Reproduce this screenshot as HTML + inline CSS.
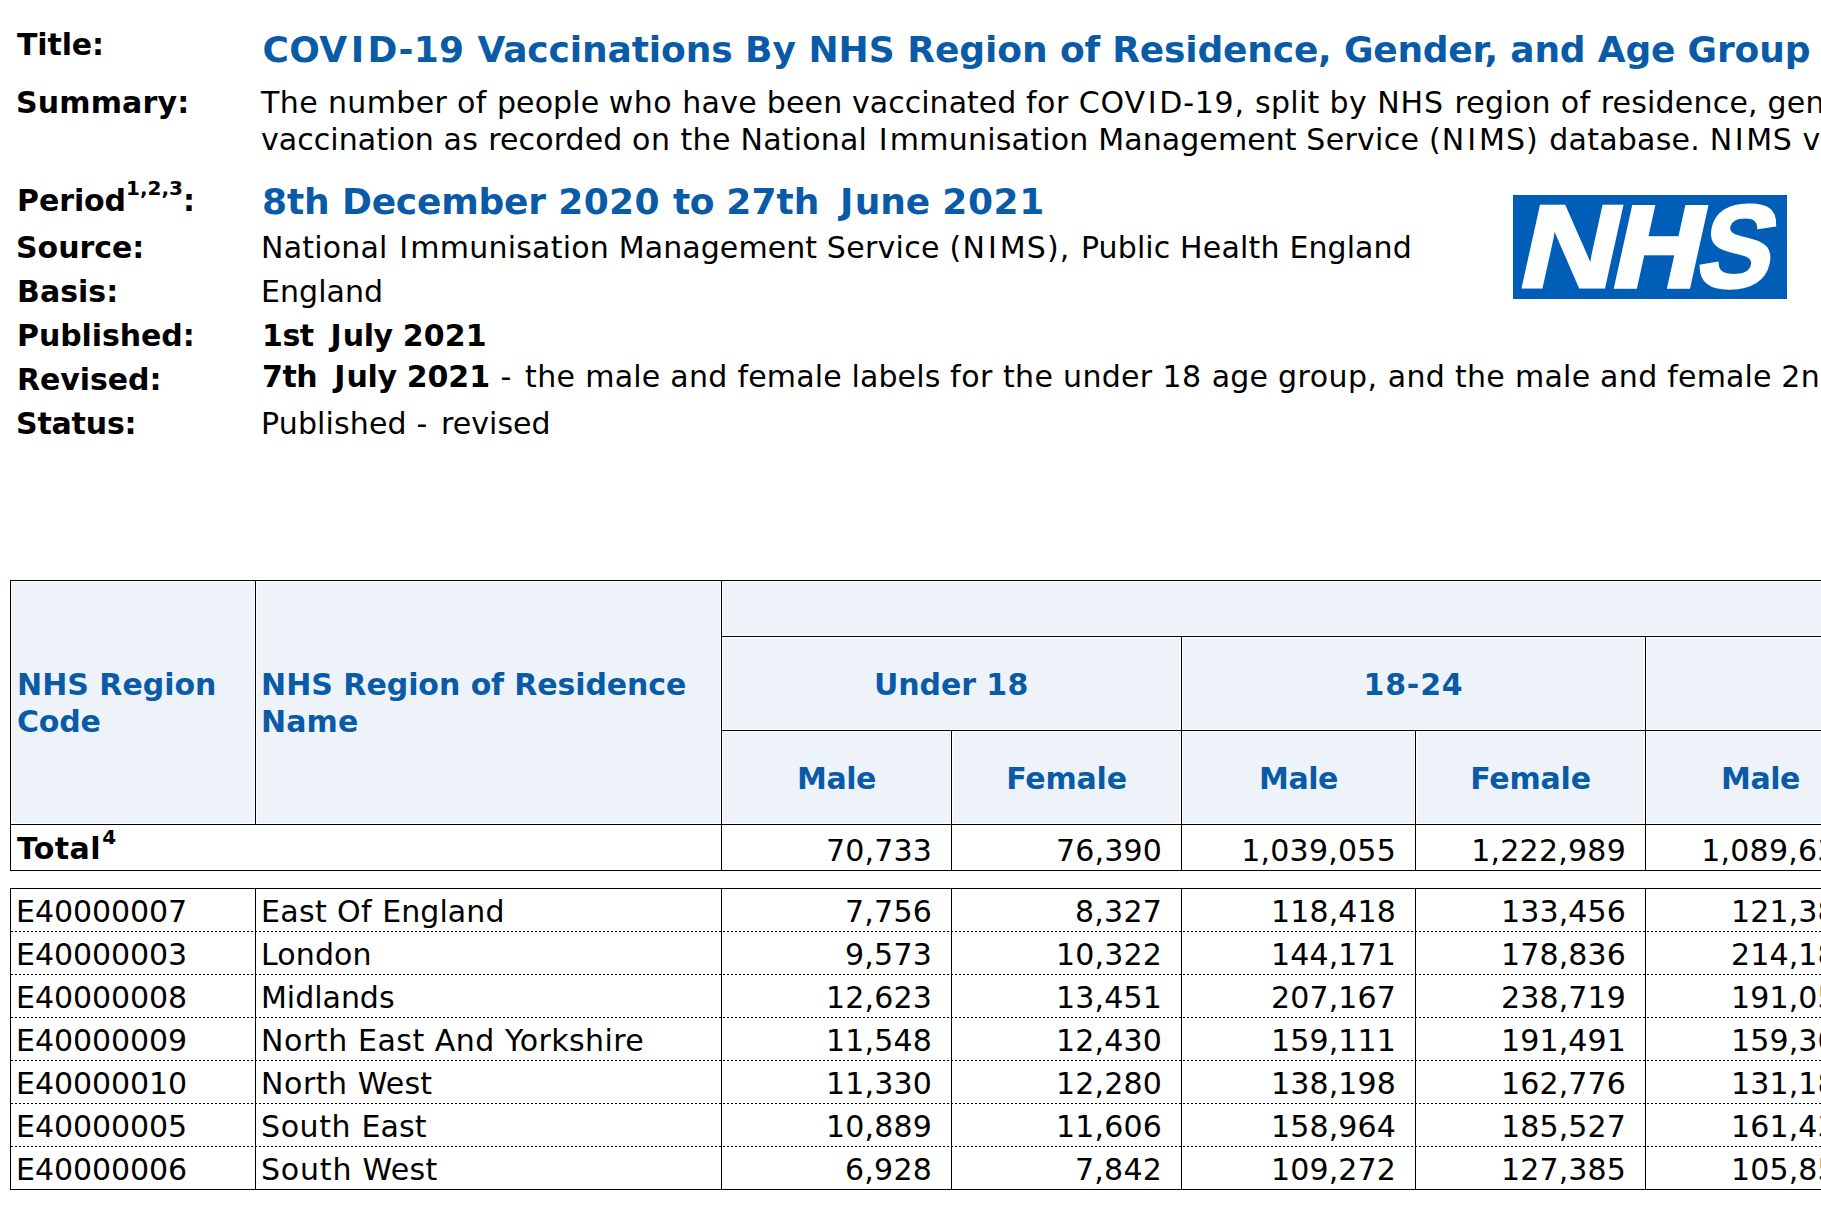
<!DOCTYPE html>
<html lang="en"><head><meta charset="utf-8"><title>COVID-19 Vaccinations By NHS Region of Residence, Gender, and Age Group</title>
<style>
html,body{margin:0;padding:0;background:#fff;}
body{width:1821px;height:1217px;overflow:hidden;position:relative;font-family:"DejaVu Sans","Liberation Sans",sans-serif;}
.t{position:absolute;white-space:nowrap;line-height:40px;height:40px;}
.t i{font-style:normal}
.t sup{font-size:20px;vertical-align:baseline;position:relative;top:-16px;line-height:0;letter-spacing:0}
.t sup.s4{top:-15.5px;margin-left:1.5px}
.l{position:absolute;background:#000;}
.hd{position:absolute;height:1px;background:repeating-linear-gradient(90deg,#000 0,#000 2px,transparent 2px,transparent 4px);background-position:1px 0;}
.fill{position:absolute;background:#EEF3FA;overflow:hidden}
.w{position:absolute;background:#fff}
.logo{position:absolute;}
</style></head>
<body>
<div class="t" style="top:25.00px;font-size:30px;font-weight:bold;left:17px;"><span style="letter-spacing:-0.13px">Title:</span></div>
<div class="t" style="top:30.00px;font-size:36px;font-weight:bold;color:#095BA7;left:262.5px;"><span style="letter-spacing:0.35px">COV<i style="padding:0 3.16px 0 3.16px">I</i>D-19 </span><span style="letter-spacing:-0.11px">Vaccinations </span><span style="letter-spacing:-0.02px">By </span><span style="letter-spacing:0.03px">NHS </span><span style="letter-spacing:-0.06px">Region </span><span style="letter-spacing:-0.18px">of </span><span style="letter-spacing:-0.19px">Residence, </span><span style="letter-spacing:-0.26px">Gender, </span><span style="letter-spacing:-0.19px">and </span><span style="letter-spacing:-0.23px">Age </span><span style="letter-spacing:-0.08px">Group</span></div>
<div class="t" style="top:83.00px;font-size:30px;font-weight:bold;left:16px;"><span style="letter-spacing:0.15px">Summary:</span></div>
<div class="t" style="top:83.00px;font-size:30px;left:261px;"><span style="letter-spacing:0.40px">The </span><span style="letter-spacing:0.35px">number </span><span style="letter-spacing:0.49px">of </span><span style="letter-spacing:0.09px">people </span><span style="letter-spacing:0.50px">who </span><span style="letter-spacing:0.27px">have </span><span style="letter-spacing:0.15px">been </span><span style="letter-spacing:0.02px">vaccinated </span><span style="letter-spacing:0.53px">for </span><span style="letter-spacing:0.77px">COV<i style="padding:0 1.99px 0 1.99px">I</i>D-19, </span><span style="letter-spacing:0.28px">split </span><span style="letter-spacing:0.47px">by </span><span style="letter-spacing:0.91px">NHS </span><span style="letter-spacing:0.27px">region </span><span style="letter-spacing:0.49px">of </span><span style="letter-spacing:0.21px">residence, </span><span style="letter-spacing:0.20px">gender </span><span style="letter-spacing:0.33px">and </span><span style="letter-spacing:0.18px">age </span><span style="letter-spacing:0.53px">group. </span><span style="letter-spacing:0.38px">All </span><span style="letter-spacing:0.27px">figures </span><span style="letter-spacing:0.36px">are </span><span style="letter-spacing:0.16px">presented </span><span style="letter-spacing:0.47px">by </span><span style="letter-spacing:0.19px">date </span><span style="letter-spacing:0.14px">of</span></div>
<div class="t" style="top:120.00px;font-size:30px;left:261px;"><span style="letter-spacing:0.05px">vaccination </span><span style="letter-spacing:0.41px">as </span><span style="letter-spacing:0.11px">recorded </span><span style="letter-spacing:0.49px">on </span><span style="letter-spacing:0.31px">the </span><span style="letter-spacing:0.19px">National </span><span style="letter-spacing:0.22px"><i style="padding:0 1.97px 0 1.97px">I</i>mmunisation </span><span style="letter-spacing:0.08px">Management </span><span style="letter-spacing:0.30px">Service </span><span style="letter-spacing:1.02px">(N<i style="padding:0 1.97px 0 1.97px">I</i>MS) </span><span style="letter-spacing:0.22px">database. </span><span style="letter-spacing:0.59px">N<i style="padding:0 1.97px 0 1.97px">I</i>MS </span><span style="letter-spacing:0.05px">vaccination </span><span style="letter-spacing:0.20px">data </span><span style="letter-spacing:0.33px">are </span><span style="letter-spacing:0.10px">updated </span><span style="letter-spacing:0.20px">daily </span><span style="letter-spacing:0.29px">and </span><span style="letter-spacing:0.40px">may </span><span style="letter-spacing:0.23px">be </span><span style="letter-spacing:0.23px">revised.</span></div>
<div class="t" style="top:181.00px;font-size:30px;font-weight:bold;left:17px;"><span style="letter-spacing:-0.08px">Period</span><sup>1,2,3</sup>:</div>
<div class="t" style="top:182.00px;font-size:36px;font-weight:bold;color:#095BA7;left:262px;"><span style="letter-spacing:-0.12px">8th </span><span style="letter-spacing:-0.20px">December </span><span style="letter-spacing:0.39px">2020 </span><span style="letter-spacing:-0.35px">to </span><span style="letter-spacing:0.01px">27th </span><span style="letter-spacing:-0.14px"><i style="padding:0 1.50px 0 8.09px">J</i>une </span><span style="letter-spacing:0.54px">2021</span></div>
<div class="t" style="top:228.00px;font-size:30px;font-weight:bold;left:16px;"><span style="letter-spacing:-0.03px">Source:</span></div>
<div class="t" style="top:228.00px;font-size:30px;left:261px;"><span style="letter-spacing:0.19px">National </span><span style="letter-spacing:0.22px"><i style="padding:0 1.97px 0 1.97px">I</i>mmunisation </span><span style="letter-spacing:0.08px">Management </span><span style="letter-spacing:0.30px">Service </span><span style="letter-spacing:1.08px">(N<i style="padding:0 1.97px 0 1.97px">I</i>MS), </span><span style="letter-spacing:0.12px">Public </span><span style="letter-spacing:0.20px">Health </span><span style="letter-spacing:0.06px">England</span></div>
<div class="t" style="top:272.00px;font-size:30px;font-weight:bold;left:17px;"><span style="letter-spacing:0.01px">Basis:</span></div>
<div class="t" style="top:272.00px;font-size:30px;left:261px;"><span style="letter-spacing:0.06px">England</span></div>
<div class="t" style="top:316.00px;font-size:30px;font-weight:bold;left:17px;"><span style="letter-spacing:-0.08px">Published:</span></div>
<div class="t" style="top:316.00px;font-size:30px;font-weight:bold;left:262px;"><span style="letter-spacing:-0.49px">1st </span><span style="letter-spacing:-0.43px"><i style="padding:0 1.50px 0 7.05px">J</i>uly </span><span style="letter-spacing:0.10px">2021</span></div>
<div class="t" style="top:360.00px;font-size:30px;font-weight:bold;left:17px;"><span style="letter-spacing:-0.07px">Revised:</span></div>
<div class="t" style="top:357.00px;font-size:30px;left:262px;"><b><span style="letter-spacing:-0.44px">7th </span><span style="letter-spacing:-0.40px"><i style="padding:0 1.50px 0 7.05px">J</i>uly </span><span style="letter-spacing:-0.00px">2021 </span></b><span style="letter-spacing:2.08px">- </span><span style="letter-spacing:0.33px">the </span><span style="letter-spacing:0.23px">male </span><span style="letter-spacing:0.31px">and </span><span style="letter-spacing:0.14px">female </span><span style="letter-spacing:0.13px">labels </span><span style="letter-spacing:0.52px">for </span><span style="letter-spacing:0.33px">the </span><span style="letter-spacing:0.32px">under </span><span style="letter-spacing:0.57px">18 </span><span style="letter-spacing:0.17px">age </span><span style="letter-spacing:0.51px">group, </span><span style="letter-spacing:0.31px">and </span><span style="letter-spacing:0.33px">the </span><span style="letter-spacing:0.23px">male </span><span style="letter-spacing:0.31px">and </span><span style="letter-spacing:0.14px">female </span><span style="letter-spacing:0.40px">2nd </span><span style="letter-spacing:0.22px">dose </span><span style="letter-spacing:0.13px">labels </span><span style="letter-spacing:0.52px">for </span><span style="letter-spacing:0.33px">the </span><span style="letter-spacing:0.87px">18-24 </span><span style="letter-spacing:0.17px">age </span><span style="letter-spacing:0.34px">group </span><span style="letter-spacing:0.31px">were </span><span style="letter-spacing:0.11px">transposed</span></div>
<div class="t" style="top:404.00px;font-size:30px;font-weight:bold;left:16px;"><span style="letter-spacing:-0.20px">Status:</span></div>
<div class="t" style="top:404.00px;font-size:30px;left:261px;"><span style="letter-spacing:0.15px">Published </span><span style="letter-spacing:2.07px">- </span><span style="letter-spacing:0.04px">revised</span></div>
<svg class="logo" style="left:1513px;top:195px" width="274" height="104" viewBox="0 0 274 104">
<rect width="274" height="104" fill="#005EB8"/>
<g font-family="Liberation Sans, sans-serif" font-weight="bold" fill="#fff" stroke="#fff" stroke-linejoin="miter">
<text transform="matrix(1.159 0 -0.221 1 1.54 92.4)" font-size="117.4" stroke-width="3">N</text><text transform="matrix(1.052 0 -0.221 1 96.3 91.15)" font-size="113.8" stroke-width="5.5">H</text><text transform="matrix(0.946 0 -0.221 1 180.3 92.4)" font-size="117.4" stroke-width="3">S</text>
</g>
</svg>
<div class="fill" style="left:10px;top:580px;width:1890px;height:245px"><div class="w" style="left:-1px;top:-1px;width:1892px;height:3px"></div><div class="w" style="left:710px;top:55px;width:1181px;height:3px"></div><div class="w" style="left:710px;top:149px;width:1181px;height:3px"></div><div class="w" style="left:-1px;top:243px;width:1892px;height:3px"></div><div class="w" style="left:-1px;top:-1px;width:3px;height:246px"></div><div class="w" style="left:244px;top:-1px;width:3px;height:246px"></div><div class="w" style="left:710px;top:-1px;width:3px;height:246px"></div><div class="w" style="left:940px;top:149px;width:3px;height:96px"></div><div class="w" style="left:1404px;top:149px;width:3px;height:96px"></div><div class="w" style="left:1864px;top:149px;width:3px;height:96px"></div><div class="w" style="left:1170px;top:55px;width:3px;height:190px"></div><div class="w" style="left:1634px;top:55px;width:3px;height:190px"></div></div>
<div class="l" style="left:10px;top:580px;width:1890px;height:1px"></div>
<div class="l" style="left:721px;top:636px;width:1179px;height:1px"></div>
<div class="l" style="left:721px;top:730px;width:1179px;height:1px"></div>
<div class="l" style="left:10px;top:824px;width:1890px;height:1px"></div>
<div class="l" style="left:10px;top:580px;width:1px;height:245px"></div>
<div class="l" style="left:255px;top:580px;width:1px;height:245px"></div>
<div class="l" style="left:721px;top:580px;width:1px;height:245px"></div>
<div class="l" style="left:951px;top:730px;width:1px;height:95px"></div>
<div class="l" style="left:1415px;top:730px;width:1px;height:95px"></div>
<div class="l" style="left:1875px;top:730px;width:1px;height:95px"></div>
<div class="l" style="left:1181px;top:636px;width:1px;height:189px"></div>
<div class="l" style="left:1645px;top:636px;width:1px;height:189px"></div>
<div class="l" style="left:10px;top:870px;width:1890px;height:1px"></div>
<div class="l" style="left:10px;top:824px;width:1px;height:47px"></div>
<div class="l" style="left:721px;top:824px;width:1px;height:47px"></div>
<div class="l" style="left:951px;top:824px;width:1px;height:47px"></div>
<div class="l" style="left:1181px;top:824px;width:1px;height:47px"></div>
<div class="l" style="left:1415px;top:824px;width:1px;height:47px"></div>
<div class="l" style="left:1645px;top:824px;width:1px;height:47px"></div>
<div class="l" style="left:1875px;top:824px;width:1px;height:47px"></div>
<div class="t" style="top:665.00px;font-size:30px;font-weight:bold;color:#095BA7;left:17px;"><span style="letter-spacing:0.02px">NHS </span><span style="letter-spacing:-0.03px">Region</span></div>
<div class="t" style="top:702.00px;font-size:30px;font-weight:bold;color:#095BA7;left:17px;"><span style="letter-spacing:-0.24px">Code</span></div>
<div class="t" style="top:665.00px;font-size:30px;font-weight:bold;color:#095BA7;left:261px;"><span style="letter-spacing:0.02px">NHS </span><span style="letter-spacing:-0.05px">Region </span><span style="letter-spacing:-0.15px">of </span><span style="letter-spacing:-0.12px">Residence</span></div>
<div class="t" style="top:702.00px;font-size:30px;font-weight:bold;color:#095BA7;left:261px;"><span style="letter-spacing:0.12px">Name</span></div>
<div class="t" style="top:665.00px;font-size:30px;font-weight:bold;color:#095BA7;left:551.5px;width:800px;text-align:center;"><span style="letter-spacing:-0.10px">Under </span><span style="letter-spacing:0.53px">18</span></div>
<div class="t" style="top:665.00px;font-size:30px;font-weight:bold;color:#095BA7;left:1013.5px;width:800px;text-align:center;"><span style="letter-spacing:0.82px">18-24</span></div>
<div class="t" style="top:665.00px;font-size:30px;font-weight:bold;color:#095BA7;left:1705px;width:800px;text-align:center;"><span style="letter-spacing:0.82px">25-29</span></div>
<div class="t" style="top:759.00px;font-size:30px;font-weight:bold;color:#095BA7;left:436.5px;width:800px;text-align:center;"><span style="letter-spacing:-0.45px">Male</span></div>
<div class="t" style="top:759.00px;font-size:30px;font-weight:bold;color:#095BA7;left:666.5px;width:800px;text-align:center;"><span style="letter-spacing:-0.20px">Female</span></div>
<div class="t" style="top:759.00px;font-size:30px;font-weight:bold;color:#095BA7;left:898.5px;width:800px;text-align:center;"><span style="letter-spacing:-0.45px">Male</span></div>
<div class="t" style="top:759.00px;font-size:30px;font-weight:bold;color:#095BA7;left:1130.5px;width:800px;text-align:center;"><span style="letter-spacing:-0.20px">Female</span></div>
<div class="t" style="top:759.00px;font-size:30px;font-weight:bold;color:#095BA7;left:1360.5px;width:800px;text-align:center;"><span style="letter-spacing:-0.45px">Male</span></div>
<div class="t" style="top:829.00px;font-size:30px;font-weight:bold;left:17px;"><span style="letter-spacing:0.37px">Total</span><sup class="s4">4</sup></div>
<div class="t" style="top:831.00px;font-size:30px;right:889.00px;text-align:right;"><span style="letter-spacing:0.16px">70,733</span></div>
<div class="t" style="top:831.00px;font-size:30px;right:659.00px;text-align:right;"><span style="letter-spacing:0.16px">76,390</span></div>
<div class="t" style="top:831.00px;font-size:30px;right:425.00px;text-align:right;"><span style="letter-spacing:0.24px">1,039,055</span></div>
<div class="t" style="top:831.00px;font-size:30px;right:195.00px;text-align:right;"><span style="letter-spacing:0.24px">1,222,989</span></div>
<div class="t" style="top:831.00px;font-size:30px;right:-35.00px;text-align:right;"><span style="letter-spacing:0.24px">1,089,631</span></div>
<div class="l" style="left:10px;top:888px;width:1890px;height:1px"></div>
<div class="l" style="left:10px;top:1189px;width:1890px;height:1px"></div>
<div class="hd" style="left:10px;top:931px;width:1890px"></div>
<div class="hd" style="left:10px;top:974px;width:1890px"></div>
<div class="hd" style="left:10px;top:1017px;width:1890px"></div>
<div class="hd" style="left:10px;top:1060px;width:1890px"></div>
<div class="hd" style="left:10px;top:1103px;width:1890px"></div>
<div class="hd" style="left:10px;top:1146px;width:1890px"></div>
<div class="l" style="left:10px;top:888px;width:1px;height:302px"></div>
<div class="l" style="left:255px;top:888px;width:1px;height:302px"></div>
<div class="l" style="left:721px;top:888px;width:1px;height:302px"></div>
<div class="l" style="left:951px;top:888px;width:1px;height:302px"></div>
<div class="l" style="left:1181px;top:888px;width:1px;height:302px"></div>
<div class="l" style="left:1415px;top:888px;width:1px;height:302px"></div>
<div class="l" style="left:1645px;top:888px;width:1px;height:302px"></div>
<div class="l" style="left:1875px;top:888px;width:1px;height:302px"></div>
<div class="t" style="top:892.00px;font-size:30px;left:16px;"><span style="letter-spacing:-0.07px">E40000007</span></div>
<div class="t" style="top:892.00px;font-size:30px;left:261px;"><span style="letter-spacing:0.34px">East </span><span style="letter-spacing:0.53px">Of </span><span style="letter-spacing:0.06px">England</span></div>
<div class="t" style="top:892.00px;font-size:30px;right:889.00px;text-align:right;"><span style="letter-spacing:0.21px">7,756</span></div>
<div class="t" style="top:892.00px;font-size:30px;right:659.00px;text-align:right;"><span style="letter-spacing:0.21px">8,327</span></div>
<div class="t" style="top:892.00px;font-size:30px;right:425.00px;text-align:right;"><span style="letter-spacing:0.12px">118,418</span></div>
<div class="t" style="top:892.00px;font-size:30px;right:195.00px;text-align:right;"><span style="letter-spacing:0.12px">133,456</span></div>
<div class="t" style="top:892.00px;font-size:30px;right:-35.00px;text-align:right;"><span style="letter-spacing:0.12px">121,385</span></div>
<div class="t" style="top:935.00px;font-size:30px;left:16px;"><span style="letter-spacing:-0.07px">E40000003</span></div>
<div class="t" style="top:935.00px;font-size:30px;left:261px;"><span style="letter-spacing:0.12px">London</span></div>
<div class="t" style="top:935.00px;font-size:30px;right:889.00px;text-align:right;"><span style="letter-spacing:0.21px">9,573</span></div>
<div class="t" style="top:935.00px;font-size:30px;right:659.00px;text-align:right;"><span style="letter-spacing:0.16px">10,322</span></div>
<div class="t" style="top:935.00px;font-size:30px;right:425.00px;text-align:right;"><span style="letter-spacing:0.12px">144,171</span></div>
<div class="t" style="top:935.00px;font-size:30px;right:195.00px;text-align:right;"><span style="letter-spacing:0.12px">178,836</span></div>
<div class="t" style="top:935.00px;font-size:30px;right:-35.00px;text-align:right;"><span style="letter-spacing:0.12px">214,186</span></div>
<div class="t" style="top:978.00px;font-size:30px;left:16px;"><span style="letter-spacing:-0.07px">E40000008</span></div>
<div class="t" style="top:978.00px;font-size:30px;left:261px;"><span style="letter-spacing:-0.02px">Midlands</span></div>
<div class="t" style="top:978.00px;font-size:30px;right:889.00px;text-align:right;"><span style="letter-spacing:0.16px">12,623</span></div>
<div class="t" style="top:978.00px;font-size:30px;right:659.00px;text-align:right;"><span style="letter-spacing:0.16px">13,451</span></div>
<div class="t" style="top:978.00px;font-size:30px;right:425.00px;text-align:right;"><span style="letter-spacing:0.12px">207,167</span></div>
<div class="t" style="top:978.00px;font-size:30px;right:195.00px;text-align:right;"><span style="letter-spacing:0.12px">238,719</span></div>
<div class="t" style="top:978.00px;font-size:30px;right:-35.00px;text-align:right;"><span style="letter-spacing:0.12px">191,053</span></div>
<div class="t" style="top:1021.00px;font-size:30px;left:16px;"><span style="letter-spacing:-0.07px">E40000009</span></div>
<div class="t" style="top:1021.00px;font-size:30px;left:261px;"><span style="letter-spacing:0.58px">North </span><span style="letter-spacing:0.49px">East </span><span style="letter-spacing:0.53px">And </span><span style="letter-spacing:0.42px">Yorkshire</span></div>
<div class="t" style="top:1021.00px;font-size:30px;right:889.00px;text-align:right;"><span style="letter-spacing:0.16px">11,548</span></div>
<div class="t" style="top:1021.00px;font-size:30px;right:659.00px;text-align:right;"><span style="letter-spacing:0.16px">12,430</span></div>
<div class="t" style="top:1021.00px;font-size:30px;right:425.00px;text-align:right;"><span style="letter-spacing:0.12px">159,111</span></div>
<div class="t" style="top:1021.00px;font-size:30px;right:195.00px;text-align:right;"><span style="letter-spacing:0.12px">191,491</span></div>
<div class="t" style="top:1021.00px;font-size:30px;right:-35.00px;text-align:right;"><span style="letter-spacing:0.12px">159,306</span></div>
<div class="t" style="top:1064.00px;font-size:30px;left:16px;"><span style="letter-spacing:-0.07px">E40000010</span></div>
<div class="t" style="top:1064.00px;font-size:30px;left:261px;"><span style="letter-spacing:0.54px">North </span><span style="letter-spacing:0.22px">West</span></div>
<div class="t" style="top:1064.00px;font-size:30px;right:889.00px;text-align:right;"><span style="letter-spacing:0.16px">11,330</span></div>
<div class="t" style="top:1064.00px;font-size:30px;right:659.00px;text-align:right;"><span style="letter-spacing:0.16px">12,280</span></div>
<div class="t" style="top:1064.00px;font-size:30px;right:425.00px;text-align:right;"><span style="letter-spacing:0.12px">138,198</span></div>
<div class="t" style="top:1064.00px;font-size:30px;right:195.00px;text-align:right;"><span style="letter-spacing:0.12px">162,776</span></div>
<div class="t" style="top:1064.00px;font-size:30px;right:-35.00px;text-align:right;"><span style="letter-spacing:0.12px">131,184</span></div>
<div class="t" style="top:1107.00px;font-size:30px;left:16px;"><span style="letter-spacing:-0.07px">E40000005</span></div>
<div class="t" style="top:1107.00px;font-size:30px;left:261px;"><span style="letter-spacing:0.61px">South </span><span style="letter-spacing:0.14px">East</span></div>
<div class="t" style="top:1107.00px;font-size:30px;right:889.00px;text-align:right;"><span style="letter-spacing:0.16px">10,889</span></div>
<div class="t" style="top:1107.00px;font-size:30px;right:659.00px;text-align:right;"><span style="letter-spacing:0.16px">11,606</span></div>
<div class="t" style="top:1107.00px;font-size:30px;right:425.00px;text-align:right;"><span style="letter-spacing:0.12px">158,964</span></div>
<div class="t" style="top:1107.00px;font-size:30px;right:195.00px;text-align:right;"><span style="letter-spacing:0.12px">185,527</span></div>
<div class="t" style="top:1107.00px;font-size:30px;right:-35.00px;text-align:right;"><span style="letter-spacing:0.12px">161,437</span></div>
<div class="t" style="top:1150.00px;font-size:30px;left:16px;"><span style="letter-spacing:-0.07px">E40000006</span></div>
<div class="t" style="top:1150.00px;font-size:30px;left:261px;"><span style="letter-spacing:0.81px">South </span><span style="letter-spacing:0.32px">West</span></div>
<div class="t" style="top:1150.00px;font-size:30px;right:889.00px;text-align:right;"><span style="letter-spacing:0.21px">6,928</span></div>
<div class="t" style="top:1150.00px;font-size:30px;right:659.00px;text-align:right;"><span style="letter-spacing:0.21px">7,842</span></div>
<div class="t" style="top:1150.00px;font-size:30px;right:425.00px;text-align:right;"><span style="letter-spacing:0.12px">109,272</span></div>
<div class="t" style="top:1150.00px;font-size:30px;right:195.00px;text-align:right;"><span style="letter-spacing:0.12px">127,385</span></div>
<div class="t" style="top:1150.00px;font-size:30px;right:-35.00px;text-align:right;"><span style="letter-spacing:0.12px">105,853</span></div>
</body></html>
